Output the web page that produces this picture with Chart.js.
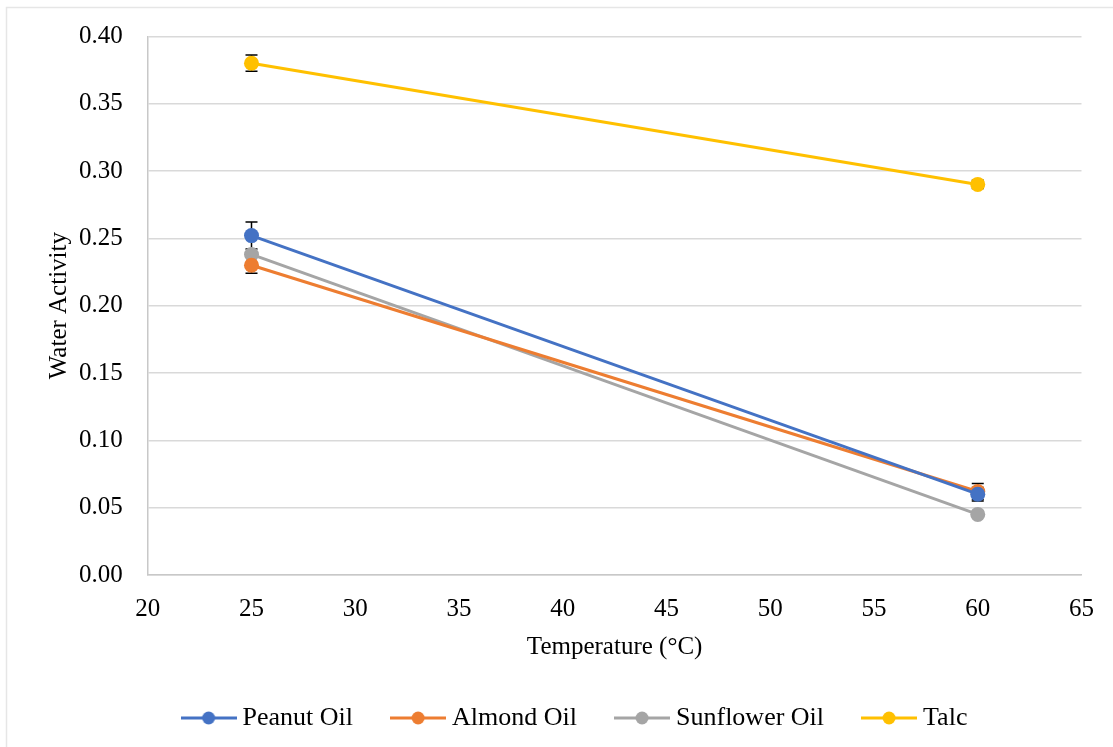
<!DOCTYPE html>
<html>
<head>
<meta charset="utf-8">
<script src="https://cdn.jsdelivr.net/npm/chart.js@4"></script>
<style>
  html, body { margin: 0; padding: 0; background: #fff; }
  #wrap { width: 1113px; height: 747px; position: relative; }
</style>
</head>
<body>
<div id="wrap"><canvas id="myChart" width="1113" height="747"></canvas></div>
<script>
const temps = [25, 60];
const seriesNames = ["Peanut Oil", "Almond Oil", "Sunflower Oil", "Talc"];
const peanut = [0.252, 0.060];
const almond = [0.230, 0.062];
const sunflower = [0.238, 0.045];
const talc = [0.380, 0.290];
const peanutErr = [0.010, 0.005];
const almondErr = [0.006, 0.006];
const sunflowerErr = [0.001, 0.001];
const talcErr = [0.006, 0.003];
const colors = ["#4472C4", "#ED7D31", "#A5A5A5", "#FFC000"];

const serif = "'Liberation Serif', 'Times New Roman', serif";

function pts(ys, errs) {
  return temps.map((t, i) => ({x: t, y: ys[i], err: errs[i]}));
}

// legend swatch: line with a dot in the middle
function swatch(color) {
  const c = document.createElement("canvas");
  c.width = 56; c.height = 16;
  const g = c.getContext("2d");
  g.strokeStyle = color; g.lineWidth = 3;
  g.beginPath(); g.moveTo(0, 8); g.lineTo(56, 8); g.stroke();
  g.fillStyle = color;
  g.beginPath(); g.arc(28, 8, 6.5, 0, Math.PI * 2); g.fill();
  return c;
}

const errorBars = {
  id: "errorBars",
  beforeDatasetsDraw(chart) {
    const ctx = chart.ctx;
    const xs = chart.scales.x, ys = chart.scales.y;
    ctx.save();
    ctx.strokeStyle = "#000";
    ctx.lineWidth = 1.5;
    chart.data.datasets.forEach(ds => {
      ds.data.forEach(p => {
        const x = xs.getPixelForValue(p.x);
        const top = ys.getPixelForValue(p.y + p.err);
        const bot = ys.getPixelForValue(p.y - p.err);
        ctx.beginPath();
        ctx.moveTo(x, top); ctx.lineTo(x, bot);
        ctx.moveTo(x - 6, top); ctx.lineTo(x + 6, top);
        ctx.moveTo(x - 6, bot); ctx.lineTo(x + 6, bot);
        ctx.stroke();
      });
    });
    ctx.restore();
  }
};

const frame = {
  id: "frame",
  beforeDraw(chart) {
    const ctx = chart.ctx;
    ctx.save();
    ctx.fillStyle = "#fff";
    ctx.fillRect(0, 0, chart.width, chart.height);
    ctx.strokeStyle = "#e6e6e6";
    ctx.lineWidth = 1.5;
    ctx.strokeRect(6.5, 7.5, chart.width + 20, chart.height + 20);
    ctx.restore();
  }
};

// nudge the legend row a bit to the right, like the original
const legendShift = {
  id: "legendShift",
  afterLayout(chart) {
    chart.legend.left += 15;
    chart.legend.right += 15;
  }
};

const allData = [peanut, almond, sunflower, talc];
const allErr = [peanutErr, almondErr, sunflowerErr, talcErr];

new Chart("myChart", {
  type: "line",
  data: {
    datasets: seriesNames.map((name, i) => ({
      label: name,
      data: pts(allData[i], allErr[i]),
      borderColor: colors[i],
      backgroundColor: colors[i],
      borderWidth: 3,
      pointRadius: 7.5,
      pointHoverRadius: 7.5,
      pointBorderWidth: 0,
      tension: 0
    }))
  },
  options: {
    responsive: false,
    animation: false,
    layout: {padding: {left: 40, right: 28, top: 14, bottom: 6}},
    plugins: {
      tooltip: {enabled: false},
      legend: {
        position: "bottom",
        labels: {
          font: {family: serif, size: 26},
          color: "#000",
          usePointStyle: true,
          pointStyleWidth: 42,
          padding: 44,
          generateLabels(chart) {
            return chart.data.datasets.map((ds, i) => ({
              text: ds.label,
              pointStyle: swatch(colors[i]),
              fillStyle: colors[i],
              strokeStyle: colors[i],
              lineWidth: 0,
              hidden: false,
              datasetIndex: i
            }));
          }
        }
      }
    },
    scales: {
      x: {
        type: "linear",
        min: 20, max: 65,
        ticks: {stepSize: 5, color: "#000", font: {family: serif, size: 25}, padding: 19},
        grid: {display: false, drawTicks: false},
        border: {color: "#c8c8c8", width: 1.5},
        title: {display: true, text: "Temperature (°C)", color: "#000", font: {family: serif, size: 25}, padding: {top: -11, bottom: -1}}
      },
      y: {
        min: 0, max: 0.4,
        afterFit(scale) { scale.width -= 22; },
        ticks: {stepSize: 0.05, color: "#000", font: {family: serif, size: 25, lineHeight: 0.9}, padding: 25,
          callback: v => v.toFixed(2)},
        grid: {color: "#d9d9d9", lineWidth: 1.5, drawTicks: false},
        border: {color: "#c8c8c8", width: 1.5},
        title: {display: true, text: "Water Activity", color: "#000", font: {family: serif, size: 25}, padding: {bottom: 2}}
      }
    }
  },
  plugins: [frame, legendShift, errorBars]
});
</script>
</body>
</html>
